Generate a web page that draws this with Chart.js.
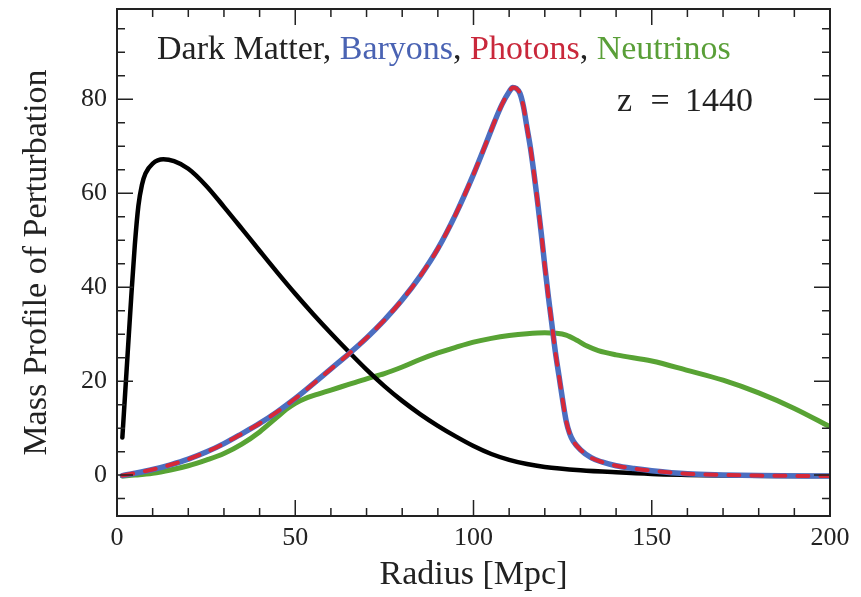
<!DOCTYPE html>
<html>
<head>
<meta charset="utf-8">
<title>Mass Profile of Perturbation</title>
<script src="https://cdn.jsdelivr.net/npm/chart.js@4.4.0/dist/chart.umd.min.js"></script>
<style>
  html, body { margin: 0; padding: 0; background: #fff; overflow: hidden; }
  #wrap { width: 861px; height: 597px; }
</style>
</head>
<body>
<div id="wrap"><canvas id="chart"></canvas></div>
<script>
// radius in Mpc, mass profile per component
const darkRadius = [1.5, 2, 3, 4, 5, 6, 7, 8, 10, 13, 16, 20, 25, 30, 35, 40, 45, 50, 55, 60,
  65, 70, 75, 80, 85, 90, 95, 100, 105, 110, 115, 120, 130, 140, 150, 160, 170, 185, 200];
const darkMatter = [8, 14, 26, 38, 49, 57.3, 61.8, 64.2, 66.3, 67.2, 66.8, 65.2, 61.6, 57.1, 52.45, 47.75, 43.1, 38.6, 34.3, 30.2,
  26.25, 22.45, 18.95, 15.8, 13.0, 10.5, 8.25, 6.2, 4.5, 3.25, 2.35, 1.75, 1.05, 0.6, 0.25, 0.05, -0.1, -0.2, -0.2];

const baryonRadius = [1.5, 5, 10, 15, 20, 25, 30, 35, 40, 45, 50, 55, 60, 65, 70, 75, 80, 85, 90, 95,
  100, 103, 106, 108, 110, 111, 112, 113, 114, 115, 116, 117, 118, 119, 120, 121, 122, 123, 124, 125,
  126, 127, 128, 130, 133, 136, 140, 145, 150, 160, 170, 180, 200];
const baryons = [-0.1, 0.4, 1.2, 2.2, 3.4, 4.9, 6.7, 8.8, 11.0, 13.5, 16.3, 19.4, 22.6, 25.8, 29.2, 33.0, 37.3, 42.3, 48.2, 55.5,
  64, 69.6, 75.4, 78.9, 81.6, 82.5, 82.3, 81.3, 78.5, 74, 69.5, 64, 58, 51.5, 44.5, 38, 32, 26, 21, 16,
  11.5, 8.8, 7.2, 5.4, 3.7, 2.8, 2.0, 1.4, 0.95, 0.3, 0.05, -0.1, -0.2];
// photons move together with the baryons
const photons = [-0.1, 0.4, 1.2, 2.2, 3.4, 4.9, 6.7, 8.8, 11.0, 13.5, 16.3, 19.4, 22.6, 25.8, 29.2, 33.0, 37.3, 42.3, 48.2, 55.5,
  64, 69.6, 75.4, 78.9, 81.6, 82.5, 82.3, 81.3, 78.5, 74, 69.5, 64, 58, 51.5, 44.5, 38, 32, 26, 21, 16,
  11.5, 8.8, 7.2, 5.4, 3.7, 2.8, 2.0, 1.4, 0.95, 0.3, 0.05, -0.1, -0.2];

const neutrinoRadius = [1.5, 5, 10, 15, 20, 25, 30, 35, 40, 45, 47.5, 50, 52.5, 55, 60, 65, 70, 75, 80, 85, 90, 95,
  100, 105, 110, 115, 120, 123, 126, 129, 132, 135, 140, 150, 160, 170, 180, 190, 200];
const neutrinos = [-0.2, 0.0, 0.4, 1.1, 2.0, 3.2, 4.6, 6.6, 9.2, 12.4, 14.0, 15.3, 16.2, 16.9, 18.1, 19.3, 20.5, 21.6, 23.0, 24.6, 26.0, 27.2,
  28.3, 29.1, 29.7, 30.1, 30.3, 30.2, 29.8, 28.7, 27.4, 26.5, 25.6, 24.3, 22.3, 20.2, 17.5, 14.2, 10.3];

const xTicks = [0, 50, 100, 150, 200];
const yTicks = [0, 20, 40, 60, 80];

const SERIF = '"Liberation Serif", "DejaVu Serif", serif';
const INK = '#222';

function points(xs, ys) {
  return xs.map((x, i) => ({ x: x, y: ys[i] }));
}

// inward ticks on all four sides plus the box
const frameTicks = {
  id: 'frameTicks',
  afterDraw(chart) {
    const { ctx, chartArea: a } = chart;
    const x = chart.scales.x, y = chart.scales.y;
    ctx.save();
    ctx.strokeStyle = INK;
    ctx.lineWidth = 1.5;
    ctx.beginPath();
    for (let v = 0; v <= 200; v += 10) {
      const px = x.getPixelForValue(v);
      const len = v % 50 === 0 ? 16 : 8;
      ctx.moveTo(px, a.bottom); ctx.lineTo(px, a.bottom - len);
      ctx.moveTo(px, a.top); ctx.lineTo(px, a.top + len);
    }
    for (let v = -5; v <= 95; v += 5) {
      const py = y.getPixelForValue(v);
      const len = v % 20 === 0 ? 16 : 8;
      ctx.moveTo(a.left, py); ctx.lineTo(a.left + len, py);
      ctx.moveTo(a.right, py); ctx.lineTo(a.right - len, py);
    }
    ctx.stroke();
    ctx.lineWidth = 2;
    ctx.strokeRect(a.left, a.top, a.right - a.left, a.bottom - a.top);
    ctx.restore();
  }
};

// coloured component names and the redshift label
const plotText = {
  id: 'plotText',
  afterDraw(chart) {
    const ctx = chart.ctx;
    ctx.save();
    ctx.font = '34px ' + SERIF;
    ctx.textBaseline = 'alphabetic';
    ctx.textAlign = 'left';
    const parts = [
      ['Dark Matter, ', INK],
      ['Baryons', '#4a63b3'],
      [', ', INK],
      ['Photons', '#c9283b'],
      [', ', INK],
      ['Neutrinos', '#5a9f38']
    ];
    let cx = 157;
    parts.forEach(([txt, col]) => {
      ctx.fillStyle = col;
      ctx.fillText(txt, cx, 59);
      cx += ctx.measureText(txt).width;
    });
    ctx.fillStyle = INK;
    ctx.fillText('z', 617, 111);
    ctx.textAlign = 'center';
    ctx.fillText('=', 660, 111);
    ctx.textAlign = 'right';
    ctx.fillText('1440', 753, 111);
    ctx.restore();
  }
};

function mainChart() {
  const ctx = document.getElementById('chart');
  new Chart(ctx, {
    type: 'line',
    data: {
      datasets: [
        {
          label: 'Photons',
          data: points(baryonRadius, photons),
          borderColor: '#d62839',
          borderWidth: 4,
          borderDash: [11, 12],
        },
        {
          label: 'Baryons',
          data: points(baryonRadius, baryons),
          borderColor: '#4c6ec0',
          borderWidth: 5.5,
        },
        {
          label: 'Dark Matter',
          data: points(darkRadius, darkMatter),
          borderColor: '#000',
          borderWidth: 4.5,
        },
        {
          label: 'Neutrinos',
          data: points(neutrinoRadius, neutrinos),
          borderColor: '#58a334',
          borderWidth: 5,
        },
      ],
    },
    options: {
      responsive: true,
      maintainAspectRatio: false,
      animation: false,
      layout: { padding: { left: 0, right: 31, top: 9, bottom: 0 } },
      elements: {
        point: { radius: 0 },
        line: { cubicInterpolationMode: 'monotone', borderCapStyle: 'round', borderJoinStyle: 'round' },
      },
      plugins: {
        legend: { display: false },
        tooltip: { enabled: false },
      },
      scales: {
        x: {
          type: 'linear',
          min: 0,
          max: 200,
          grid: { display: false, drawTicks: false },
          border: { display: false },
          afterBuildTicks: (s) => { s.ticks = xTicks.map((v) => ({ value: v })); },
          afterFit: (s) => { s.height = 81; },
          ticks: {
            padding: 7,
            color: INK,
            font: { family: SERIF, size: 26 },
            maxRotation: 0,
          },
          title: {
            display: true,
            text: 'Radius [Mpc]',
            color: INK,
            font: { family: SERIF, size: 34 },
            padding: { top: 0, bottom: 2 },
          },
        },
        y: {
          min: -8.7,
          max: 99.2,
          grid: { display: false, drawTicks: false },
          border: { display: false },
          afterBuildTicks: (s) => { s.ticks = yTicks.map((v) => ({ value: v })); },
          afterFit: (s) => {
            s.width = 117;
            // labels sit well inside the range, so no extra room above or below
            s.paddingTop = 0;
            s.paddingBottom = 0;
          },
          ticks: {
            padding: 10,
            color: INK,
            font: { family: SERIF, size: 26 },
          },
          title: {
            display: true,
            text: 'Mass Profile of Perturbation',
            color: INK,
            font: { family: SERIF, size: 34 },
            padding: { top: 17, bottom: 0 },
          },
        },
      },
    },
    plugins: [frameTicks, plotText],
  });
}

document.addEventListener('DOMContentLoaded', () => mainChart());
</script>
</body>
</html>
